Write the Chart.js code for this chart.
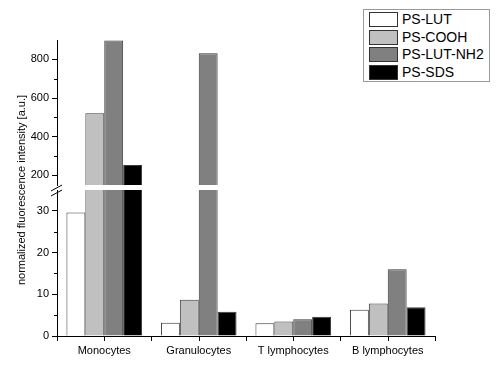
<!DOCTYPE html>
<html>
<head>
<meta charset="utf-8">
<script src="https://cdn.jsdelivr.net/npm/chart.js@4"></script>
<style>
  body { margin: 0; background: #fff; font-family: "Liberation Sans", Arial, sans-serif; }
  #wrap { position: relative; width: 500px; height: 370px; }
  #topBox { position: absolute; left: 0; top: 0; width: 500px; height: 200px; }
  #lowBox { position: absolute; left: 0; top: 170px; width: 500px; height: 200px; }
  #ytitle { position: absolute; left: -109px; top: 184px; width: 260px; text-align: center;
            font-size: 11px; color: #000; transform: rotate(-90deg); white-space: nowrap; }
  #legend { position: absolute; left: 363px; top: 9px; width: 125px; height: 71px;
            border: 1px solid #999; background: #fff; }
  .row { position: absolute; left: 5px; height: 15px; }
  .sw { position: absolute; left: 0; top: 0; width: 27px; height: 13px; border: 1px solid #333; }
  .lab { position: absolute; left: 33px; top: -1px; font-size: 14px; line-height: 16px; color: #000; white-space: nowrap; }
</style>
</head>
<body>
<div id="wrap">
  <div id="topBox"><canvas id="topChart"></canvas></div>
  <div id="lowBox"><canvas id="lowChart"></canvas></div>
  <div id="ytitle">normalized fluorescence intensity [a.u.]</div>
  <div id="legend"></div>
</div>
<script>
const categories = ['Monocytes', 'Granulocytes', 'T lymphocytes', 'B lymphocytes'];
const seriesNames = ['PS-LUT', 'PS-COOH', 'PS-LUT-NH2', 'PS-SDS'];
const psLut = [29.6, 3.2, 3.05, 6.3];
const psCooh = [521, 8.7, 3.5, 7.8];
const psLutNh2 = [898, 831, 4.0, 16.0];
const psSds = [254, 5.8, 4.6, 6.9];
const upperTicks = [200, 300, 400, 500, 600, 700, 800];
const lowerTicks = [0, 5, 10, 15, 20, 25, 30];

const seriesData = [psLut, psCooh, psLutNh2, psSds];
const fills = ['#ffffff', '#c0c0c0', '#808080', '#000000'];
const font = { family: '"Liberation Sans", Arial, sans-serif', size: 11 };

function makeDatasets() {
  return seriesData.map((d, i) => ({
    label: seriesNames[i],
    data: d,
    backgroundColor: fills[i],
    borderColor: '#3a3a3a',
    borderWidth: 1,
    categoryPercentage: 0.8,
    barPercentage: 1.0,
    clip: 0
  }));
}

// tick marks at category centres (the grid lines sit on the boundaries)
const centerTicks = {
  id: 'centerTicks',
  afterDraw(chart) {
    const x = chart.scales.x;
    if (!x.options.display) return;
    const c = chart.ctx;
    c.save();
    c.strokeStyle = '#000';
    c.lineWidth = 1;
    categories.forEach((_, i) => {
      const px = Math.round(x.getPixelForValue(i)) + 0.5;
      c.beginPath();
      c.moveTo(px, x.top);
      c.lineTo(px, x.top + 5);
      c.stroke();
    });
    c.restore();
  }
};

// shorter minor ticks on the y axis
const minorTicks = {
  id: 'minorTicks',
  afterDraw(chart) {
    const y = chart.scales.y;
    const major = y.options.majorStep;
    const c = chart.ctx;
    const left = chart.chartArea.left;
    c.save();
    c.strokeStyle = '#000';
    c.lineWidth = 1;
    y.ticks.forEach(t => {
      if (t.value % major === 0) return;
      const py = Math.round(y.getPixelForValue(t.value)) + 0.5;
      c.beginPath();
      c.moveTo(left - 3, py);
      c.lineTo(left, py);
      c.stroke();
    });
    c.restore();
  }
};

// the "//" marks of the axis break
const breakMarks = {
  id: 'breakMarks',
  afterDraw(chart) {
    const a = chart.chartArea;
    const c = chart.ctx;
    const y0 = a.top - 2;
    c.save();
    c.strokeStyle = '#000';
    c.lineWidth = 1;
    [0, 5].forEach(dy => {
      c.beginPath();
      c.moveTo(a.left - 6, y0 + dy + 3);
      c.lineTo(a.left + 5, y0 + dy - 3);
      c.stroke();
    });
    c.restore();
  }
};

function yScale(min, max, ticks, major) {
  return {
    min: min,
    max: max,
    majorStep: major,
    afterBuildTicks: s => { s.ticks = ticks.map(v => ({ value: v })); },
    afterFit: s => { s.width = 57; },
    border: { display: true, color: '#000', width: 1 },
    grid: {
      drawOnChartArea: false,
      tickLength: 5,
      tickColor: ctx => (ctx.tick && ctx.tick.value % major !== 0 ? 'rgba(0,0,0,0)' : '#000')
    },
    ticks: {
      color: '#000',
      font: font,
      padding: 3,
      callback: v => (v % major === 0 ? v : '')
    }
  };
}

new Chart(document.getElementById('topChart'), {
  type: 'bar',
  data: { labels: categories, datasets: makeDatasets() },
  options: {
    responsive: true,
    maintainAspectRatio: false,
    animation: false,
    layout: { padding: { top: 40, bottom: 15, right: 65, left: 0 } },
    plugins: { legend: { display: false }, tooltip: { enabled: false } },
    scales: {
      x: { display: false, offset: true },
      y: yScale(150, 900, upperTicks, 200)
    }
  },
  plugins: [minorTicks]
});

new Chart(document.getElementById('lowChart'), {
  type: 'bar',
  data: { labels: categories, datasets: makeDatasets() },
  options: {
    responsive: true,
    maintainAspectRatio: false,
    animation: false,
    layout: { padding: { top: 20, bottom: 0, right: 65, left: 0 } },
    plugins: { legend: { display: false }, tooltip: { enabled: false } },
    scales: {
      x: {
        offset: true,
        afterFit: s => { s.height = 34; },
        border: { display: true, color: '#000', width: 1 },
        grid: { offset: true, drawOnChartArea: false, tickLength: 5, tickColor: '#000' },
        ticks: { color: '#000', font: font, padding: 3, maxRotation: 0 }
      },
      y: yScale(0, 35, lowerTicks, 10)
    }
  },
  plugins: [centerTicks, minorTicks, breakMarks]
});

// legend
const legend = document.getElementById('legend');
seriesNames.forEach((name, i) => {
  const row = document.createElement('div');
  row.className = 'row';
  row.style.top = (2 + i * 17.7) + 'px';
  row.innerHTML = '<div class="sw" style="background:' + fills[i] + '"></div><div class="lab">' + name + '</div>';
  legend.appendChild(row);
});
</script>
</body>
</html>
